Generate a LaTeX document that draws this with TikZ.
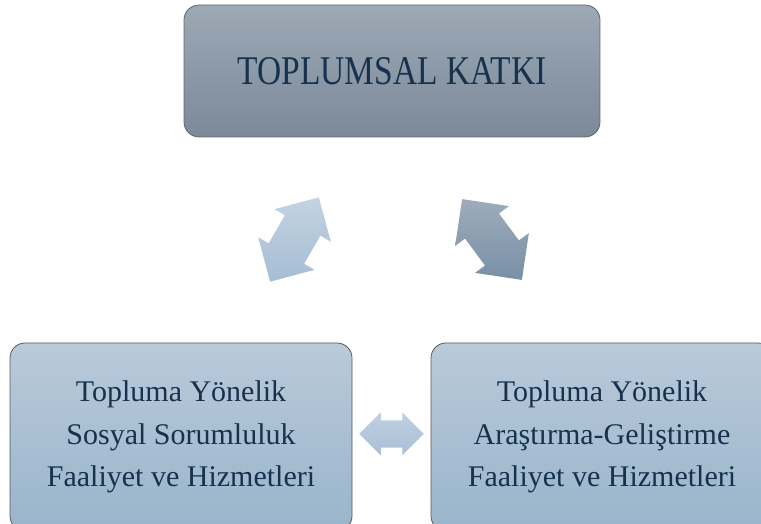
\documentclass[tikz,border=0pt]{standalone}
\usepackage{fontspec}
\setmainfont{Liberation Serif}
\newfontfamily\titlefont[FakeStretch=0.82]{Liberation Serif}
\usetikzlibrary{calc}
\definecolor{KatkiText}{HTML}{17324F}
\definecolor{KatkiTop}{HTML}{9DA9B5}
\definecolor{KatkiBot}{HTML}{7B8999}
\definecolor{AltTop}{HTML}{B9CADA}
\definecolor{AltBot}{HTML}{9AB4CB}
\definecolor{LinkLTop}{HTML}{C3D3E2}
\definecolor{LinkLBot}{HTML}{A6BDD3}
\definecolor{LinkRTop}{HTML}{9EACBB}
\definecolor{LinkRBot}{HTML}{7890A6}
\definecolor{LinkBTop}{HTML}{BFD0E1}
\definecolor{LinkBBot}{HTML}{A9BFD5}
\tikzset{
  katkibox/.style={draw=#1, line width=.8pt, rounded corners=15pt, text=KatkiText, align=center, inner sep=0pt},
}
% double block arrow: centre, angle, head width, top colour, bottom colour
\newcommand{\blockarrow}[5]{%
  \shade[top color=#4,bottom color=#5] ($(#1)+(#2:.75*#3)$) -- ($(#1)+(#2:.25*#3)+(#2+90:.5*#3)$) -- ($(#1)+(#2:.25*#3)+(#2+90:.315*#3)$)
    -- ($(#1)+(#2:-.25*#3)+(#2+90:.315*#3)$) -- ($(#1)+(#2:-.25*#3)+(#2+90:.5*#3)$) -- ($(#1)+(#2:-.75*#3)$)
    -- ($(#1)+(#2:-.25*#3)+(#2+90:-.5*#3)$) -- ($(#1)+(#2:-.25*#3)+(#2+90:-.315*#3)$)
    -- ($(#1)+(#2:.25*#3)+(#2+90:-.315*#3)$) -- ($(#1)+(#2:.25*#3)+(#2+90:-.5*#3)$) -- cycle;}

\begin{document}
\begin{tikzpicture}[x=1pt,y=1pt]
  \useasboundingbox (0,0) rectangle (761,524); \clip (0,0) rectangle (761,524);
  \node[katkibox=black!60, top color=KatkiTop, bottom color=KatkiBot, minimum width=416pt, minimum height=132pt, font=\titlefont\fontsize{40.8}{48}\selectfont] (katki) at (392,453) {TOPLUMSAL KATKI};
  \node[katkibox=black!65, top color=AltTop, bottom color=AltBot, minimum width=342pt, minimum height=188pt, font=\fontsize{30}{42.5}\selectfont] (sosyal) at (181,87) {Topluma Yönelik\\Sosyal Sorumluluk\\Faaliyet ve Hizmetleri};
  \node[katkibox=black!65, top color=AltTop, bottom color=AltBot, minimum width=342pt, minimum height=188pt, font=\fontsize{30}{42.5}\selectfont] (arge) at (602,87) {Topluma Yönelik\\Araştırma-Geliştirme\\Faaliyet ve Hizmetleri};
  \coordinate (linkL) at (294.5,284.5); \coordinate (linkR) at (492,284.5); \coordinate (linkB) at (391.5,90);
  \blockarrow{linkL}{60}{65}{LinkLTop}{LinkLBot}
  \blockarrow{linkR}{126.5}{67}{LinkRTop}{LinkRBot}
  \blockarrow{linkB}{0}{43}{LinkBTop}{LinkBBot}
\end{tikzpicture}
\end{document}
